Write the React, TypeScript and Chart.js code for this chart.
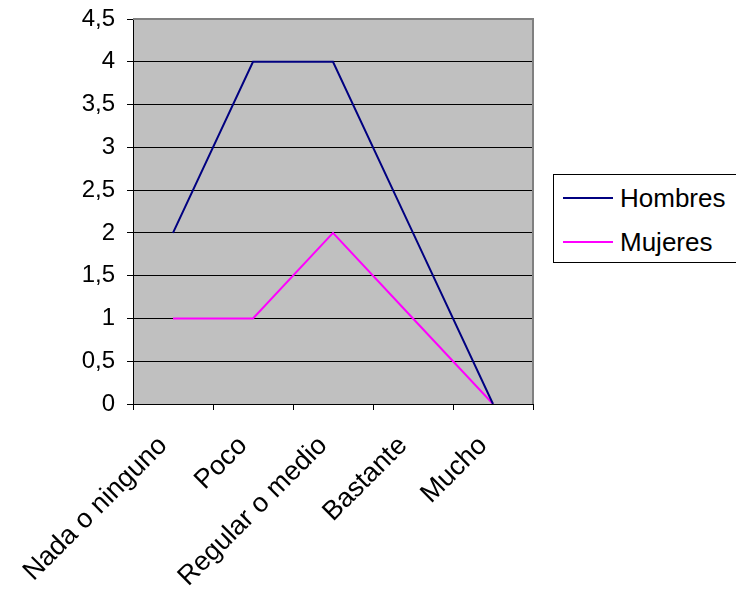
import React, { useEffect, useRef } from "react";
import { Chart, registerables } from "chart.js";

Chart.register(...registerables);

const categories = ["Nada o ninguno", "Poco", "Regular o medio", "Bastante", "Mucho"];
const hombres = [2, 4, 4, 2, 0];
const mujeres = [1, 1, 2, 1, 0];
const seriesNames = ["Hombres", "Mujeres"];
const seriesColors = ["#000080", "#FF00FF"];

const FONT = "'Liberation Sans', Arial, sans-serif";

const plotBg = {
  id: "plotBg",
  beforeDraw(chart: any) {
    const { ctx, chartArea } = chart;
    ctx.save();
    ctx.fillStyle = "#C0C0C0";
    ctx.fillRect(chartArea.left, chartArea.top, chartArea.right - chartArea.left, chartArea.bottom - chartArea.top);
    ctx.restore();
  },
  afterDraw(chart: any) {
    const { ctx, chartArea } = chart;
    ctx.save();
    ctx.strokeStyle = "#808080";
    ctx.lineWidth = 2;
    ctx.beginPath();
    ctx.moveTo(chartArea.left, chartArea.top);
    ctx.lineTo(chartArea.right, chartArea.top);
    ctx.lineTo(chartArea.right, chartArea.bottom);
    ctx.stroke();
    ctx.restore();
  },
};

export default function App() {
  const ref = useRef<HTMLCanvasElement>(null);
  useEffect(() => {
    const chart = new Chart(ref.current!, {
      type: "line",
      data: {
        labels: categories,
        datasets: [
          { label: seriesNames[0], data: hombres, borderColor: seriesColors[0], backgroundColor: seriesColors[0], borderWidth: 2, pointRadius: 0, tension: 0 },
          { label: seriesNames[1], data: mujeres, borderColor: seriesColors[1], backgroundColor: seriesColors[1], borderWidth: 2, pointRadius: 0, tension: 0 },
        ],
      },
      options: {
        animation: false,
        responsive: false,
        maintainAspectRatio: false,
        layout: { padding: { left: 0, right: 203, top: 19, bottom: 0 } },
        plugins: { legend: { display: false }, tooltip: { enabled: false } },
        scales: {
          x: {
            type: "category",
            offset: true,
            grid: { offset: true, drawOnChartArea: false, color: "#000000", tickLength: 6 },
            border: { color: "#000000", width: 1 },
            ticks: {
              color: "#000000",
              font: { family: FONT, size: 27 },
              minRotation: 45,
              maxRotation: 45,
              padding: 20,
              labelOffset: -10,
              autoSkip: false,
            },
            afterFit(scale: any) {
              scale.height = 191;
              scale.paddingLeft = 0;
              scale.paddingRight = 0;
            },
          },
          y: {
            min: 0,
            max: 4.5,
            ticks: {
              stepSize: 0.5,
              color: "#000000",
              font: { family: FONT, size: 24 },
              padding: 12,
              callback: (v: any) => String(v).replace(".", ","),
            },
            grid: {
              color: (c: any) => (c.tick && c.tick.value === 4.5 ? "#808080" : "#000000"),
              tickColor: "#000000",
              tickLength: 6,
              lineWidth: 1,
            },
            border: { color: "#000000", width: 1 },
            afterFit(scale: any) {
              scale.width = 133;
              scale.paddingTop = 0;
              scale.paddingBottom = 0;
            },
          },
        },
      },
      plugins: [plotBg],
    });
    return () => chart.destroy();
  }, []);

  return (
    <div style={{ position: "fixed", left: 0, top: 0, width: 736, height: 595, background: "#fff" }}>
      <canvas ref={ref} width={736} height={595} style={{ position: "absolute", left: 0, top: 0 }} />
      <div
        style={{
          position: "absolute",
          left: 553,
          top: 174,
          width: 183,
          height: 87,
          border: "1px solid #000",
          borderRight: "none",
          background: "#fff",
          fontFamily: FONT,
          fontSize: 26,
          color: "#000",
        }}
      >
        {seriesNames.map((n, i) => (
          <div key={n} style={{ position: "absolute", left: 0, top: i === 0 ? 9 : 53, height: 28, display: "flex", alignItems: "center", whiteSpace: "nowrap" }}>
            <div style={{ marginLeft: 9, width: 50, height: 2, background: seriesColors[i] }} />
            <span style={{ marginLeft: 7, lineHeight: "28px" }}>{n}</span>
          </div>
        ))}
      </div>
    </div>
  );
}
